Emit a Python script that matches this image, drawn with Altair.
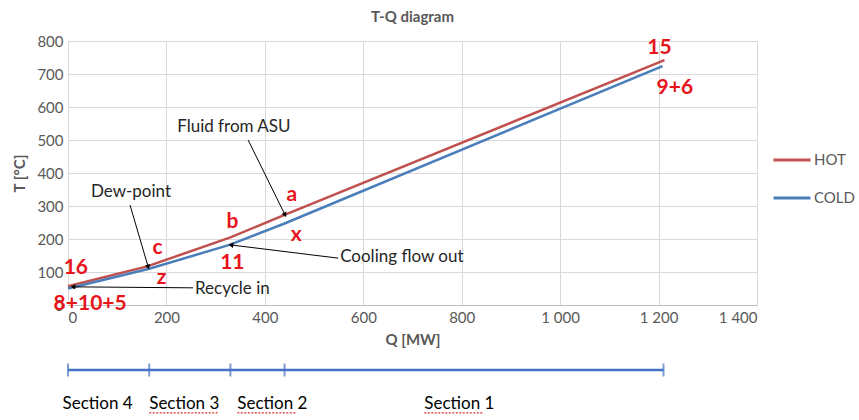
import math
import altair as alt
import pandas as pd

# ---------------- data ----------------
q_hot = [0, 161, 330, 440, 1212]
t_hot = [57, 117, 205, 273, 742]
q_cold = [0, 165, 328, 440, 1208]
t_cold = [50, 110, 182, 247, 724]

red_labels = ["15", "9+6", "a", "b", "c", "16", "x", "11", "z", "8+10+5"]
red_q = [1202, 1233, 455, 334, 182, 16, 464, 334, 190, 45]
red_t = [779, 658, 333, 251, 173, 112, 212, 127, 82, 2]

note_labels = ["Fluid from ASU", "Dew-point", "Cooling flow out", "Recycle in"]
note_q = [337, 128, 553, 258]
note_t = [539, 342, 145, 48]
note_align = ["center", "center", "left", "left"]

arrow_q_tail = [366, 126, 549, 254]
arrow_t_tail = [500, 303, 142, 52]
arrow_q_head = [441, 163, 331, 10]
arrow_t_head = [273, 115, 182, 55]

section_bounds = [0, 165, 330, 440, 1210]
section_labels = ["Section 4", "Section 3", "Section 2", "Section 1"]
section_label_q = [-11, 165, 344, 724]
section_line_t = -197
section_label_t = -300

# spell-check underline under the word "Section" (Sections 3, 2, 1)
squiggle_q0 = [165, 344, 724]
squiggle_q1 = [304, 464, 842]
squiggle_t = -327

x_ticks = [0, 200, 400, 600, 800, 1000, 1200, 1400]
y_ticks = [0, 100, 200, 300, 400, 500, 600, 700, 800]

# ---------------- layout ----------------
W, H = 689, 264
PX_Q = W / 1400.0
PX_T = H / 800.0
FONT = "Lato"
GRAY = "#595959"
RED = "#E8141C"

series = pd.DataFrame({
    "Q": q_hot + q_cold,
    "T": t_hot + t_cold,
    "series": ["HOT"] * len(q_hot) + ["COLD"] * len(q_cold),
    "order": list(range(len(q_hot))) + list(range(len(q_cold))),
})

red_df = pd.DataFrame({"label": red_labels, "Q": red_q, "T": red_t})
note_df = pd.DataFrame({"label": note_labels, "Q": note_q, "T": note_t, "align": note_align})

angles = []
for qt, tt, qh, th in zip(arrow_q_tail, arrow_t_tail, arrow_q_head, arrow_t_head):
    dx = (qh - qt) * PX_Q
    dy = -(th - tt) * PX_T
    ang = math.degrees(math.atan2(dx, -dy)) % 360
    angles.append(ang)
arrow_df = pd.DataFrame({
    "Q": arrow_q_tail, "T": arrow_t_tail,
    "Q1": arrow_q_head, "T1": arrow_t_head,
    "angle": angles,
})

sec_line_df = pd.DataFrame({"Q": [section_bounds[0]], "Q1": [section_bounds[-1]], "T": [section_line_t]})
sec_tick_df = pd.DataFrame({"Q": section_bounds, "T": [section_line_t] * len(section_bounds)})
sec_label_df = pd.DataFrame({"label": section_labels, "Q": section_label_q,
                             "T": [section_label_t] * len(section_labels)})
squiggle_df = pd.DataFrame({"Q": squiggle_q0, "Q1": squiggle_q1, "T": [squiggle_t] * len(squiggle_q0)})

xscale = alt.Scale(domain=[0, 1400], nice=False, zero=False)
yscale = alt.Scale(domain=[0, 800], nice=False, zero=False)

xaxis = alt.Axis(values=x_ticks, title="Q [MW]", grid=True, gridColor="#D9D9D9",
                 domainColor="#BFBFBF", domainWidth=1, ticks=False,
                 labelColor=GRAY, labelFontSize=15, labelFont=FONT, labelPadding=5,
                 labelExpr="replace(format(datum.value, ','), ',', ' ')",
                 titleFont=FONT, titleFontSize=15, titleColor=GRAY, titleFontWeight="bold",
                 titlePadding=7)
yaxis = alt.Axis(values=y_ticks, title="T [°C]", grid=True, gridColor="#D9D9D9",
                 domain=False, ticks=False, labelColor=GRAY, labelFontSize=15,
                 labelFont=FONT, labelPadding=5, labelOverlap=False,
                 titleFont=FONT, titleFontSize=15, titleColor=GRAY, titleFontWeight="bold",
                 titlePadding=9)

X = alt.X("Q:Q", scale=xscale, axis=xaxis)
Y = alt.Y("T:Q", scale=yscale, axis=yaxis)

lines = alt.Chart(series).mark_line(strokeWidth=2.5).encode(
    x=X, y=Y,
    color=alt.Color("series:N",
                    scale=alt.Scale(domain=["HOT", "COLD"], range=["#C0504D", "#4A7EBB"]),
                    legend=alt.Legend(title=None, orient="none", legendX=704, legendY=99,
                                      symbolType="stroke", symbolSize=1369,
                                      symbolStrokeWidth=3, labelFont=FONT, labelFontSize=15,
                                      labelColor=GRAY, labelOffset=2, rowPadding=10,
                                      padding=0)),
    order="order:Q",
)

arrows = alt.Chart(arrow_df).mark_rule(color="black", strokeWidth=1).encode(
    x=X, y=Y, x2="Q1:Q", y2="T1:Q")
heads = alt.Chart(arrow_df).mark_point(shape="triangle-up", filled=True, color="black",
                                        size=30, opacity=1).encode(
    x=alt.X("Q1:Q", scale=xscale, axis=xaxis), y=alt.Y("T1:Q", scale=yscale, axis=yaxis),
    angle=alt.Angle("angle:Q", scale=None))

red_text = alt.Chart(red_df).mark_text(font=FONT, fontSize=21, fontWeight="bold",
                                       color=RED, baseline="middle", align="center").encode(
    x=X, y=Y, text="label:N")

note_center = alt.Chart(note_df[note_df["align"] == "center"]).mark_text(
    font=FONT, fontSize=17, color="#262626", baseline="middle", align="center").encode(
    x=X, y=Y, text="label:N")
note_left = alt.Chart(note_df[note_df["align"] == "left"]).mark_text(
    font=FONT, fontSize=17, color="#262626", baseline="middle", align="left").encode(
    x=X, y=Y, text="label:N")

sec_line = alt.Chart(sec_line_df).mark_rule(color="#4472C4", strokeWidth=2.5).encode(
    x=X, x2="Q1:Q", y=Y)
sec_ticks = alt.Chart(sec_tick_df).mark_tick(color="#4472C4", orient="vertical",
                                             size=13, thickness=2).encode(x=X, y=Y)
sec_text = alt.Chart(sec_label_df).mark_text(font=FONT, fontSize=17, color="black",
                                             baseline="middle", align="left").encode(
    x=X, y=Y, text="label:N")
squiggle = alt.Chart(squiggle_df).mark_rule(color="#E03030", strokeWidth=1.2,
                                            strokeDash=[2, 1.5]).encode(
    x=X, x2="Q1:Q", y=Y)

chart = alt.layer(lines, arrows, heads, red_text, note_center, note_left,
                  sec_line, sec_ticks, sec_text, squiggle).properties(
    width=W, height=H,
    title=alt.TitleParams("T-Q diagram", font=FONT, fontSize=15, fontWeight="bold",
                          color=GRAY, anchor="middle", offset=9),
    autosize=alt.AutoSizeParams(type="none"),
    padding={"left": 68, "top": 41, "right": 859 - 68 - W, "bottom": 420 - 41 - H},
).configure_view(stroke=None).configure(background="white")

chart.save("out.html", embed_options={"renderer": "svg", "actions": False})
